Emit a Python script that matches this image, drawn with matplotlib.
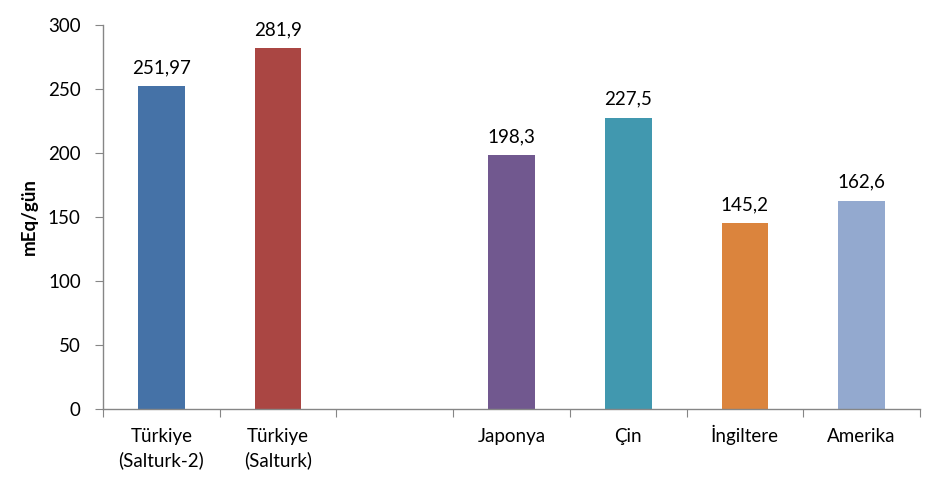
import numpy as np
import matplotlib.pyplot as plt
from matplotlib.transforms import blended_transform_factory

plt.rcParams['font.family'] = ['Lato', 'DejaVu Sans']

categories = ['Türkiye\n(Salturk-2)', 'Türkiye\n(Salturk)', '', 'Japonya', 'Çin', 'İngiltere', 'Amerika']
values = [251.97, 281.9, None, 198.3, 227.5, 145.2, 162.6]
value_labels = ['251,97', '281,9', '', '198,3', '227,5', '145,2', '162,6']
colors = ['#4572A7', '#AA4643', 'none', '#71588F', '#4198AF', '#DB843D', '#93A9CF']

fig = plt.figure(figsize=(9.5, 5.04), dpi=100)
ax = fig.add_axes([0.1084, 0.1885, 0.86, 0.7619])

axis_col = '#868686'
fs = 13.5
x = np.arange(len(categories))
for i, v in enumerate(values):
    if v is None:
        continue
    ax.bar(x[i], v, width=0.4, color=colors[i], zorder=2)
    ax.text(x[i], v + 8, value_labels[i], ha='center', va='bottom', fontsize=fs, color='#000000')

ax.set_xlim(-0.5, len(categories) - 0.5)
ax.set_ylim(0, 300)
ax.set_yticks(range(0, 301, 50))
ax.set_xticks(np.arange(-0.5, len(categories), 1.0))
ax.set_xticklabels([])
ax.tick_params(axis='x', length=6, color=axis_col, direction='out')
ax.tick_params(axis='y', length=6, color=axis_col, direction='out', labelsize=fs, pad=10)

# category labels, first lines on a common baseline
trans = blended_transform_factory(ax.transData, ax.transAxes)
for i, lab in enumerate(categories):
    if not lab:
        continue
    lines = lab.split('\n')
    for k, line in enumerate(lines):
        ax.text(x[i], -0.087 - k * 0.063, line, transform=trans, ha='center',
                va='baseline', fontsize=fs, clip_on=False)

for s in ['top', 'right']:
    ax.spines[s].set_visible(False)
for s in ['left', 'bottom']:
    ax.spines[s].set_color(axis_col)
    ax.spines[s].set_linewidth(1.0)

ax.set_ylabel('mEq/gün', fontsize=fs, fontweight='bold')
ax.yaxis.set_label_coords(-0.08, 0.5)

fig.savefig('out.png', dpi=100)
